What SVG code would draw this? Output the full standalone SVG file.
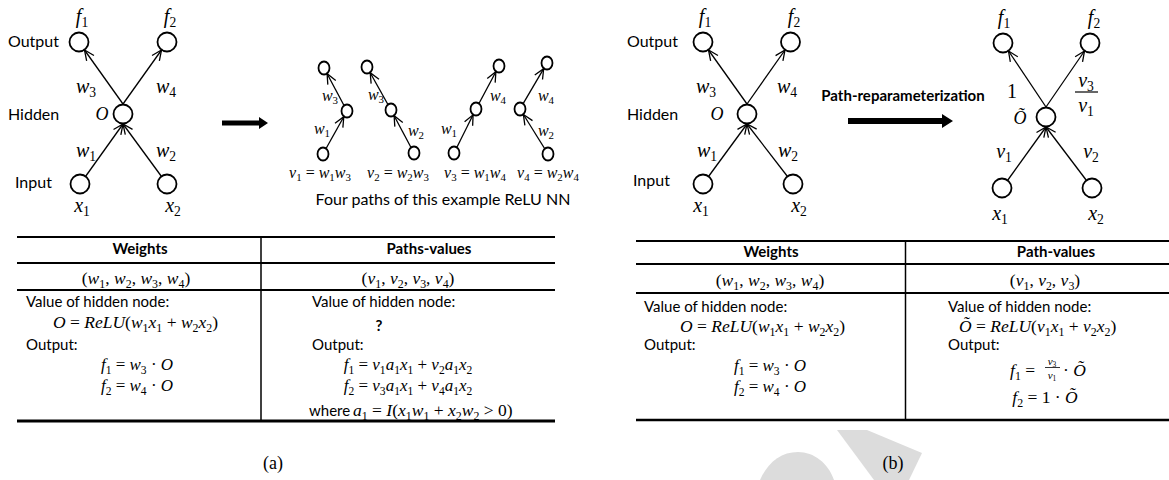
<svg xmlns="http://www.w3.org/2000/svg" width="1169" height="480" viewBox="0 0 1169 480">
<defs>
<style>
.bg{fill:#fff}
.wm{fill:#dcdcdc}
.node{fill:none;stroke:#000;stroke-width:1.8}
.edge{stroke:#000;stroke-width:1.3;fill:none;marker-end:url(#ah)}
.lbl{font-family:Lato,"Liberation Sans",sans-serif;font-size:16px;fill:#000}
.txt{font-family:Lato,"Liberation Sans",sans-serif;font-size:15px;fill:#000}
.hdr{font-family:Lato,"Liberation Sans",sans-serif;font-size:15px;font-weight:bold;fill:#000}
.m{font-family:"Liberation Serif",serif;font-style:italic;fill:#000}
.n{font-style:normal}
.s{font-style:normal;font-size:0.68em}
.rule{stroke:#000;fill:none}
.cap{font-family:"Liberation Serif",serif;font-size:18px;fill:#000}
</style>
<marker id="ah" markerUnits="userSpaceOnUse" markerWidth="14" markerHeight="12" viewBox="-12 -6 14 12" refX="0" refY="0" orient="auto" overflow="visible">
<path d="M-10,-4.5 L0,0 L-10,4.5" fill="none" stroke="#000" stroke-width="1.3"/>
</marker>
</defs>
<rect class="bg" x="0" y="0" width="1169" height="480"/>

<!-- watermark -->
<g id="watermark">
<path class="wm" d="M837,430 L867,430 L922,453 L909,480 L874,480 Z"/>
<path class="wm" d="M760,480 C768,462 781,452 798,452 C814,452 828,463 834,480 Z"/>
</g>

<!-- ===== Panel (a) network ===== -->
<g id="a-net-labels">
<text class="lbl" x="8" y="47">Output</text>
<text class="lbl" x="8" y="120">Hidden</text>
<text class="lbl" x="15" y="188">Input</text>
</g>
<g id="a-f1"><circle class="node" cx="79" cy="42" r="9.5"/><text class="m" x="82" y="23" font-size="20" text-anchor="middle">f<tspan class="s" dy="4">1</tspan></text></g>
<g id="a-f2"><circle class="node" cx="167" cy="42" r="9.5"/><text class="m" x="170" y="23" font-size="20" text-anchor="middle">f<tspan class="s" dy="4">2</tspan></text></g>
<g id="a-h"><circle class="node" cx="123" cy="114" r="9.5"/><text class="m" x="102" y="120" font-size="18" text-anchor="middle">O</text></g>
<g id="a-x1"><circle class="node" cx="80" cy="184" r="9.5"/><text class="m" x="82" y="212" font-size="20" text-anchor="middle">x<tspan class="s" dy="4">1</tspan></text></g>
<g id="a-x2"><circle class="node" cx="167" cy="184" r="9.5"/><text class="m" x="173" y="212" font-size="20" text-anchor="middle">x<tspan class="s" dy="4">2</tspan></text></g>
<g id="a-connectors">
<line class="edge" x1="123" y1="104" x2="84.5" y2="50"/>
<line class="edge" x1="123" y1="104" x2="161.5" y2="50"/>
<line class="edge" x1="85.5" y1="176.5" x2="123" y2="124"/>
<line class="edge" x1="161.5" y1="176.5" x2="123" y2="124"/>
<text class="m" x="86" y="93" font-size="20" text-anchor="middle">w<tspan class="s" dy="4">3</tspan></text>
<text class="m" x="166" y="93" font-size="20" text-anchor="middle">w<tspan class="s" dy="4">4</tspan></text>
<text class="m" x="86" y="157" font-size="20" text-anchor="middle">w<tspan class="s" dy="4">1</tspan></text>
<text class="m" x="166" y="157" font-size="20" text-anchor="middle">w<tspan class="s" dy="4">2</tspan></text>
</g>
<g id="a-arrow"><polygon points="222,120.5 259,120.5 259,117 268,123 259,129 259,125.5 222,125.5" fill="#000"/></g>

<!-- four paths -->
<g id="paths-nodes">
<ellipse class="node" cx="324" cy="68" rx="5.5" ry="6.5" stroke-width="1.6"/>
<ellipse class="node" cx="347" cy="111" rx="5.5" ry="6.5" stroke-width="1.6"/>
<ellipse class="node" cx="323" cy="154" rx="5.5" ry="6.5" stroke-width="1.6"/>
<ellipse class="node" cx="367" cy="67" rx="5.5" ry="6.5" stroke-width="1.6"/>
<ellipse class="node" cx="391" cy="110" rx="5.5" ry="6.5" stroke-width="1.6"/>
<ellipse class="node" cx="414" cy="153" rx="5.5" ry="6.5" stroke-width="1.6"/>
<ellipse class="node" cx="454" cy="153" rx="5.5" ry="6.5" stroke-width="1.6"/>
<ellipse class="node" cx="476" cy="109" rx="5.5" ry="6.5" stroke-width="1.6"/>
<ellipse class="node" cx="499" cy="66" rx="5.5" ry="6.5" stroke-width="1.6"/>
<ellipse class="node" cx="547" cy="63" rx="5.5" ry="6.5" stroke-width="1.6"/>
<ellipse class="node" cx="520" cy="109" rx="5.5" ry="6.5" stroke-width="1.6"/>
<ellipse class="node" cx="548" cy="154" rx="5.5" ry="6.5" stroke-width="1.6"/>
</g>
<g id="paths-connectors">
<line class="edge" x1="326.2" y1="148.3" x2="343.8" y2="116.7"/>
<line class="edge" x1="343.9" y1="105.3" x2="327.1" y2="73.7"/>
<line class="edge" x1="410.9" y1="147.3" x2="394.1" y2="115.7"/>
<line class="edge" x1="387.8" y1="104.3" x2="370.2" y2="72.7"/>
<line class="edge" x1="456.9" y1="147.2" x2="473.1" y2="114.8"/>
<line class="edge" x1="479.1" y1="103.3" x2="495.9" y2="71.7"/>
<line class="edge" x1="544.6" y1="148.5" x2="523.4" y2="114.5"/>
<line class="edge" x1="523.3" y1="103.4" x2="543.7" y2="68.6"/>
</g>
<g id="paths-labels">
<text class="m" x="330" y="101" font-size="16" text-anchor="middle">w<tspan class="s" dy="3">3</tspan></text>
<text class="m" x="322" y="134" font-size="16" text-anchor="middle">w<tspan class="s" dy="3">1</tspan></text>
<text class="m" x="376" y="100" font-size="16" text-anchor="middle">w<tspan class="s" dy="3">3</tspan></text>
<text class="m" x="416" y="136" font-size="16" text-anchor="middle">w<tspan class="s" dy="3">2</tspan></text>
<text class="m" x="449" y="134" font-size="16" text-anchor="middle">w<tspan class="s" dy="3">1</tspan></text>
<text class="m" x="498" y="101" font-size="16" text-anchor="middle">w<tspan class="s" dy="3">4</tspan></text>
<text class="m" x="546" y="101" font-size="16" text-anchor="middle">w<tspan class="s" dy="3">4</tspan></text>
<text class="m" x="546" y="136" font-size="16" text-anchor="middle">w<tspan class="s" dy="3">2</tspan></text>
<text class="m" x="320" y="178" font-size="16" text-anchor="middle">v<tspan class="s" dy="3">1</tspan><tspan class="n" dy="-3"> = </tspan>w<tspan class="s" dy="3">1</tspan><tspan dy="-3">w</tspan><tspan class="s" dy="3">3</tspan></text>
<text class="m" x="398" y="178" font-size="16" text-anchor="middle">v<tspan class="s" dy="3">2</tspan><tspan class="n" dy="-3"> = </tspan>w<tspan class="s" dy="3">2</tspan><tspan dy="-3">w</tspan><tspan class="s" dy="3">3</tspan></text>
<text class="m" x="475" y="178" font-size="16" text-anchor="middle">v<tspan class="s" dy="3">3</tspan><tspan class="n" dy="-3"> = </tspan>w<tspan class="s" dy="3">1</tspan><tspan dy="-3">w</tspan><tspan class="s" dy="3">4</tspan></text>
<text class="m" x="548" y="178" font-size="16" text-anchor="middle">v<tspan class="s" dy="3">4</tspan><tspan class="n" dy="-3"> = </tspan>w<tspan class="s" dy="3">2</tspan><tspan dy="-3">w</tspan><tspan class="s" dy="3">4</tspan></text>
<text class="lbl" x="443" y="205" text-anchor="middle" font-size="15">Four paths of this example ReLU NN</text>
</g>

<!-- table (a) -->
<g id="a-table">
<line class="rule" x1="17" y1="237" x2="555" y2="237" stroke-width="2"/>
<line class="rule" x1="17" y1="263" x2="555" y2="263" stroke-width="2"/>
<line class="rule" x1="17" y1="290" x2="555" y2="290" stroke-width="2"/>
<line class="rule" x1="17" y1="421" x2="555" y2="421" stroke-width="3"/>
<line class="rule" x1="261" y1="237" x2="261" y2="421" stroke-width="1.5"/>
<text class="hdr" x="140" y="254" text-anchor="middle">Weights</text>
<text class="hdr" x="429" y="254" text-anchor="middle">Paths-values</text>
<text class="m" x="136" y="284" font-size="17.5" text-anchor="middle"><tspan class="n">(</tspan>w<tspan class="s" dy="4">1</tspan><tspan class="n" dy="-4">, </tspan>w<tspan class="s" dy="4">2</tspan><tspan class="n" dy="-4">, </tspan>w<tspan class="s" dy="4">3</tspan><tspan class="n" dy="-4">, </tspan>w<tspan class="s" dy="4">4</tspan><tspan class="n" dy="-4">)</tspan></text>
<text class="m" x="408" y="284" font-size="17.5" text-anchor="middle"><tspan class="n">(</tspan>v<tspan class="s" dy="4">1</tspan><tspan class="n" dy="-4">, </tspan>v<tspan class="s" dy="4">2</tspan><tspan class="n" dy="-4">, </tspan>v<tspan class="s" dy="4">3</tspan><tspan class="n" dy="-4">, </tspan>v<tspan class="s" dy="4">4</tspan><tspan class="n" dy="-4">)</tspan></text>
<text class="txt" x="26" y="307">Value of hidden node:</text>
<text class="m" x="53" y="328" font-size="17.5">O<tspan class="n"> = </tspan>ReLU<tspan class="n">(</tspan>w<tspan class="s" dy="4">1</tspan><tspan dy="-4">x</tspan><tspan class="s" dy="4">1</tspan><tspan class="n" dy="-4"> + </tspan>w<tspan class="s" dy="4">2</tspan><tspan dy="-4">x</tspan><tspan class="s" dy="4">2</tspan><tspan class="n" dy="-4">)</tspan></text>
<text class="txt" x="26" y="350">Output:</text>
<text class="m" x="137" y="370" font-size="17" text-anchor="middle">f<tspan class="s" dy="4">1</tspan><tspan class="n" dy="-4"> = </tspan>w<tspan class="s" dy="4">3</tspan><tspan class="n" dy="-4"> · </tspan>O</text>
<text class="m" x="137" y="391" font-size="17" text-anchor="middle">f<tspan class="s" dy="4">2</tspan><tspan class="n" dy="-4"> = </tspan>w<tspan class="s" dy="4">4</tspan><tspan class="n" dy="-4"> · </tspan>O</text>
<text class="txt" x="312" y="307">Value of hidden node:</text>
<text class="hdr" x="379" y="331" text-anchor="middle">?</text>
<text class="txt" x="312" y="350">Output:</text>
<text class="m" x="408" y="370" font-size="17" text-anchor="middle">f<tspan class="s" dy="4">1</tspan><tspan class="n" dy="-4"> = </tspan>v<tspan class="s" dy="4">1</tspan><tspan dy="-4">a</tspan><tspan class="s" dy="4">1</tspan><tspan dy="-4">x</tspan><tspan class="s" dy="4">1</tspan><tspan class="n" dy="-4"> + </tspan>v<tspan class="s" dy="4">2</tspan><tspan dy="-4">a</tspan><tspan class="s" dy="4">1</tspan><tspan dy="-4">x</tspan><tspan class="s" dy="4">2</tspan></text>
<text class="m" x="408" y="391" font-size="17" text-anchor="middle">f<tspan class="s" dy="4">2</tspan><tspan class="n" dy="-4"> = </tspan>v<tspan class="s" dy="4">3</tspan><tspan dy="-4">a</tspan><tspan class="s" dy="4">1</tspan><tspan dy="-4">x</tspan><tspan class="s" dy="4">1</tspan><tspan class="n" dy="-4"> + </tspan>v<tspan class="s" dy="4">4</tspan><tspan dy="-4">a</tspan><tspan class="s" dy="4">1</tspan><tspan dy="-4">x</tspan><tspan class="s" dy="4">2</tspan></text>
<text class="txt" x="309" y="416">where</text>
<text class="m" x="353" y="416" font-size="17.5">a<tspan class="s" dy="4">1</tspan><tspan class="n" dy="-4"> = </tspan>I<tspan class="n">(</tspan>x<tspan class="s" dy="4">1</tspan><tspan dy="-4">w</tspan><tspan class="s" dy="4">1</tspan><tspan class="n" dy="-4"> + </tspan>x<tspan class="s" dy="4">2</tspan><tspan dy="-4">w</tspan><tspan class="s" dy="4">2</tspan><tspan class="n" dy="-4"> &gt; 0)</tspan></text>
</g>
<text class="cap" x="273" y="469" text-anchor="middle">(a)</text>

<!-- ===== Panel (b) network ===== -->
<g id="b-net-labels">
<text class="lbl" x="627" y="47">Output</text>
<text class="lbl" x="627" y="120">Hidden</text>
<text class="lbl" x="633" y="186">Input</text>
</g>
<g id="b-f1"><circle class="node" cx="703" cy="42" r="9.5"/><text class="m" x="705" y="23" font-size="20" text-anchor="middle">f<tspan class="s" dy="4">1</tspan></text></g>
<g id="b-f2"><circle class="node" cx="790.5" cy="42" r="9.5"/><text class="m" x="794" y="23" font-size="20" text-anchor="middle">f<tspan class="s" dy="4">2</tspan></text></g>
<g id="b-h"><circle class="node" cx="747" cy="114" r="9.5"/><text class="m" x="717" y="120" font-size="18" text-anchor="middle">O</text></g>
<g id="b-x1"><circle class="node" cx="703" cy="184" r="9.5"/><text class="m" x="701" y="212" font-size="20" text-anchor="middle">x<tspan class="s" dy="4">1</tspan></text></g>
<g id="b-x2"><circle class="node" cx="793" cy="184" r="9.5"/><text class="m" x="799" y="212" font-size="20" text-anchor="middle">x<tspan class="s" dy="4">2</tspan></text></g>
<g id="b-connectors">
<line class="edge" x1="747" y1="104" x2="708.5" y2="50"/>
<line class="edge" x1="747" y1="104" x2="785" y2="50"/>
<line class="edge" x1="708.5" y1="176.5" x2="747" y2="124"/>
<line class="edge" x1="787.5" y1="176.5" x2="747" y2="124"/>
<text class="m" x="706" y="93" font-size="20" text-anchor="middle">w<tspan class="s" dy="4">3</tspan></text>
<text class="m" x="787" y="93" font-size="20" text-anchor="middle">w<tspan class="s" dy="4">4</tspan></text>
<text class="m" x="707" y="157" font-size="20" text-anchor="middle">w<tspan class="s" dy="4">1</tspan></text>
<text class="m" x="788" y="157" font-size="20" text-anchor="middle">w<tspan class="s" dy="4">2</tspan></text>
</g>
<g id="b-arrow">
<text class="hdr" x="903" y="101" text-anchor="middle" font-size="15.5">Path-reparameterization</text>
<polygon points="848,118 942,118 942,114 953,121 942,128 942,124 848,124" fill="#000"/>
</g>
<g id="c-f1"><circle class="node" cx="1003" cy="43" r="9.5"/><text class="m" x="1004" y="24" font-size="20" text-anchor="middle">f<tspan class="s" dy="4">1</tspan></text></g>
<g id="c-f2"><circle class="node" cx="1090" cy="43" r="9.5"/><text class="m" x="1094" y="24" font-size="20" text-anchor="middle">f<tspan class="s" dy="4">2</tspan></text></g>
<g id="c-h"><circle class="node" cx="1046" cy="117" r="9.5"/><text class="m" x="1020" y="124" font-size="18" text-anchor="middle">Õ</text></g>
<g id="c-x1"><circle class="node" cx="1002" cy="188" r="9.5"/><text class="m" x="1000" y="220" font-size="20" text-anchor="middle">x<tspan class="s" dy="4">1</tspan></text></g>
<g id="c-x2"><circle class="node" cx="1092" cy="188" r="9.5"/><text class="m" x="1096" y="220" font-size="20" text-anchor="middle">x<tspan class="s" dy="4">2</tspan></text></g>
<g id="c-connectors">
<line class="edge" x1="1046" y1="107" x2="1008.5" y2="51"/>
<line class="edge" x1="1046" y1="107" x2="1084.5" y2="51"/>
<line class="edge" x1="1007.5" y1="180.5" x2="1046" y2="127"/>
<line class="edge" x1="1086.5" y1="180.5" x2="1046" y2="127"/>
<text class="m" x="1012" y="98" font-size="20" text-anchor="middle"><tspan class="n">1</tspan></text>
<text class="m" x="1086" y="87" font-size="20" text-anchor="middle">v<tspan class="s" dy="4">3</tspan></text>
<line class="rule" x1="1075" y1="92" x2="1098" y2="92" stroke-width="1.2"/>
<text class="m" x="1086" y="112" font-size="20" text-anchor="middle">v<tspan class="s" dy="4">1</tspan></text>
<text class="m" x="1004" y="158" font-size="20" text-anchor="middle">v<tspan class="s" dy="4">1</tspan></text>
<text class="m" x="1091" y="158" font-size="20" text-anchor="middle">v<tspan class="s" dy="4">2</tspan></text>
</g>

<!-- table (b) -->
<g id="b-table">
<line class="rule" x1="636" y1="241" x2="1169" y2="241" stroke-width="2"/>
<line class="rule" x1="636" y1="264" x2="1169" y2="264" stroke-width="2"/>
<line class="rule" x1="636" y1="293" x2="1169" y2="293" stroke-width="2"/>
<line class="rule" x1="636" y1="420" x2="1169" y2="420" stroke-width="2.5"/>
<line class="rule" x1="905.5" y1="241" x2="905.5" y2="420" stroke-width="1.5"/>
<text class="hdr" x="771" y="257" text-anchor="middle">Weights</text>
<text class="hdr" x="1056" y="257" text-anchor="middle">Path-values</text>
<text class="m" x="770" y="286" font-size="17.5" text-anchor="middle"><tspan class="n">(</tspan>w<tspan class="s" dy="4">1</tspan><tspan class="n" dy="-4">, </tspan>w<tspan class="s" dy="4">2</tspan><tspan class="n" dy="-4">, </tspan>w<tspan class="s" dy="4">3</tspan><tspan class="n" dy="-4">, </tspan>w<tspan class="s" dy="4">4</tspan><tspan class="n" dy="-4">)</tspan></text>
<text class="m" x="1045" y="286" font-size="17.5" text-anchor="middle"><tspan class="n">(</tspan>v<tspan class="s" dy="4">1</tspan><tspan class="n" dy="-4">, </tspan>v<tspan class="s" dy="4">2</tspan><tspan class="n" dy="-4">, </tspan>v<tspan class="s" dy="4">3</tspan><tspan class="n" dy="-4">)</tspan></text>
<text class="txt" x="644" y="312">Value of hidden node:</text>
<text class="m" x="680" y="332" font-size="17.5">O<tspan class="n"> = </tspan>ReLU<tspan class="n">(</tspan>w<tspan class="s" dy="4">1</tspan><tspan dy="-4">x</tspan><tspan class="s" dy="4">1</tspan><tspan class="n" dy="-4"> + </tspan>w<tspan class="s" dy="4">2</tspan><tspan dy="-4">x</tspan><tspan class="s" dy="4">2</tspan><tspan class="n" dy="-4">)</tspan></text>
<text class="txt" x="644" y="350">Output:</text>
<text class="m" x="770" y="371" font-size="17" text-anchor="middle">f<tspan class="s" dy="4">1</tspan><tspan class="n" dy="-4"> = </tspan>w<tspan class="s" dy="4">3</tspan><tspan class="n" dy="-4"> · </tspan>O</text>
<text class="m" x="770" y="392" font-size="17" text-anchor="middle">f<tspan class="s" dy="4">2</tspan><tspan class="n" dy="-4"> = </tspan>w<tspan class="s" dy="4">4</tspan><tspan class="n" dy="-4"> · </tspan>O</text>
<text class="txt" x="948" y="312">Value of hidden node:</text>
<text class="m" x="959" y="332" font-size="17.5">Õ<tspan class="n"> = </tspan>ReLU<tspan class="n">(</tspan>v<tspan class="s" dy="4">1</tspan><tspan dy="-4">x</tspan><tspan class="s" dy="4">1</tspan><tspan class="n" dy="-4"> + </tspan>v<tspan class="s" dy="4">2</tspan><tspan dy="-4">x</tspan><tspan class="s" dy="4">2</tspan><tspan class="n" dy="-4">)</tspan></text>
<text class="txt" x="948" y="350">Output:</text>
<text class="m" x="1010" y="376" font-size="17.5">f<tspan class="s" dy="4">1</tspan><tspan class="n" dy="-4"> =</tspan></text>
<text class="m" x="1052" y="365" font-size="11" text-anchor="middle">v<tspan class="s" dy="2">3</tspan></text>
<line class="rule" x1="1045" y1="367.5" x2="1060" y2="367.5" stroke-width="0.8"/>
<text class="m" x="1052" y="379" font-size="11" text-anchor="middle">v<tspan class="s" dy="2">1</tspan></text>
<text class="m" x="1063" y="376" font-size="17.5"><tspan class="n">· </tspan>Õ</text>
<text class="m" x="1045" y="403" font-size="17.5" text-anchor="middle">f<tspan class="s" dy="4">2</tspan><tspan class="n" dy="-4"> = 1 · </tspan>Õ</text>
</g>
<text class="cap" x="893" y="469" text-anchor="middle">(b)</text>
</svg>
